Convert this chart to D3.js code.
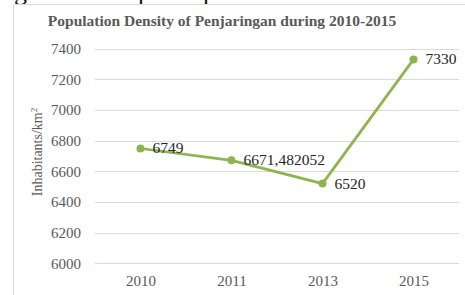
<!DOCTYPE html>
<html>
<head>
<meta charset="utf-8">
<script src="https://cdn.jsdelivr.net/npm/d3@7"></script>
<style>
  body { margin: 0; background: #fff; }
  svg text { font-family: "Liberation Serif", "Times New Roman", serif !important; }
</style>
</head>
<body>
<div id="chart"></div>
<script>
const years = ["2010", "2011", "2013", "2015"];
const density = [6749, 6671.482052, 6520, 7330];
const pointLabels = ["6749", "6671,482052", "6520", "7330"];
const yTicks = [6000, 6200, 6400, 6600, 6800, 7000, 7200, 7400];

const width = 465, height = 295;
const margin = {top: 48.7, right: 6, bottom: 31.7, left: 95};

const svg = d3.select("#chart").append("svg")
    .attr("width", width)
    .attr("height", height);

// cut-off text from the page above the chart
svg.append("text").attr("x", 14).attr("y", 0)
    .attr("font-size", 26).attr("fill", "#111").text("g");
svg.append("text").attr("x", 138).attr("y", 0)
    .attr("font-size", 26).attr("fill", "#111").text("p");
svg.append("text").attr("x", 203).attr("y", 0)
    .attr("font-size", 26).attr("fill", "#111").text("p");

// chart frame
svg.append("path")
    .attr("d", `M13.5,${height} V4.5 H${width}`)
    .attr("fill", "none")
    .attr("stroke", "#d9d9d9");

const x = d3.scalePoint()
    .domain(years)
    .range([margin.left, width - margin.right])
    .padding(0.5);

const y = d3.scaleLinear()
    .domain([6000, 7400])
    .range([height - margin.bottom, margin.top]);

// gridlines
svg.append("g")
    .selectAll("line")
    .data(yTicks)
    .enter().append("line")
    .attr("x1", margin.left)
    .attr("x2", width - margin.right)
    .attr("y1", d => Math.round(y(d)) + 0.5)
    .attr("y2", d => Math.round(y(d)) + 0.5)
    .attr("stroke", "#d9d9d9");

// y axis labels
const yAxis = svg.append("g")
    .attr("transform", `translate(${margin.left}, 0)`)
    .call(d3.axisLeft(y).tickValues(yTicks).tickFormat(d3.format("d")).tickSize(0).tickPadding(14));
yAxis.select(".domain").remove();
yAxis.selectAll("text")
    .attr("font-size", 15)
    .attr("fill", "#595959");

// x axis labels
const xAxis = svg.append("g")
    .attr("transform", `translate(0, ${height - margin.bottom})`)
    .call(d3.axisBottom(x).tickSize(0).tickPadding(12));
xAxis.select(".domain").remove();
xAxis.selectAll("text")
    .attr("font-size", 15)
    .attr("fill", "#595959");

// y axis title
svg.append("text")
    .attr("transform", `translate(42, ${(margin.top + height - margin.bottom) / 2 - 4}) rotate(-90)`)
    .attr("text-anchor", "middle")
    .attr("font-size", 14)
    .attr("fill", "#595959")
    .html("Inhabitants/km<tspan baseline-shift='super' font-size='9'>2</tspan>");

// title
svg.append("text")
    .attr("x", 222)
    .attr("y", 26)
    .attr("text-anchor", "middle")
    .attr("font-size", 15.5)
    .attr("font-weight", "bold")
    .attr("fill", "#595959")
    .text("Population Density of Penjaringan during 2010-2015");

const data = years.map((yr, i) => ({year: yr, value: density[i], label: pointLabels[i]}));

const line = d3.line()
    .x(d => x(d.year))
    .y(d => y(d.value));

svg.append("path")
    .datum(data)
    .attr("fill", "none")
    .attr("stroke", "#8fb44f")
    .attr("stroke-width", 2.75)
    .attr("stroke-linejoin", "round")
    .attr("d", line);

svg.append("g")
    .selectAll("circle")
    .data(data)
    .enter().append("circle")
    .attr("cx", d => x(d.year))
    .attr("cy", d => y(d.value))
    .attr("r", 4)
    .attr("fill", "#8fb44f");

svg.append("g")
    .selectAll("text")
    .data(data)
    .enter().append("text")
    .attr("x", d => x(d.year) + 12)
    .attr("y", d => y(d.value) + 5)
    .attr("font-size", 15.5)
    .attr("fill", "#262626")
    .text(d => d.label);
</script>
</body>
</html>
